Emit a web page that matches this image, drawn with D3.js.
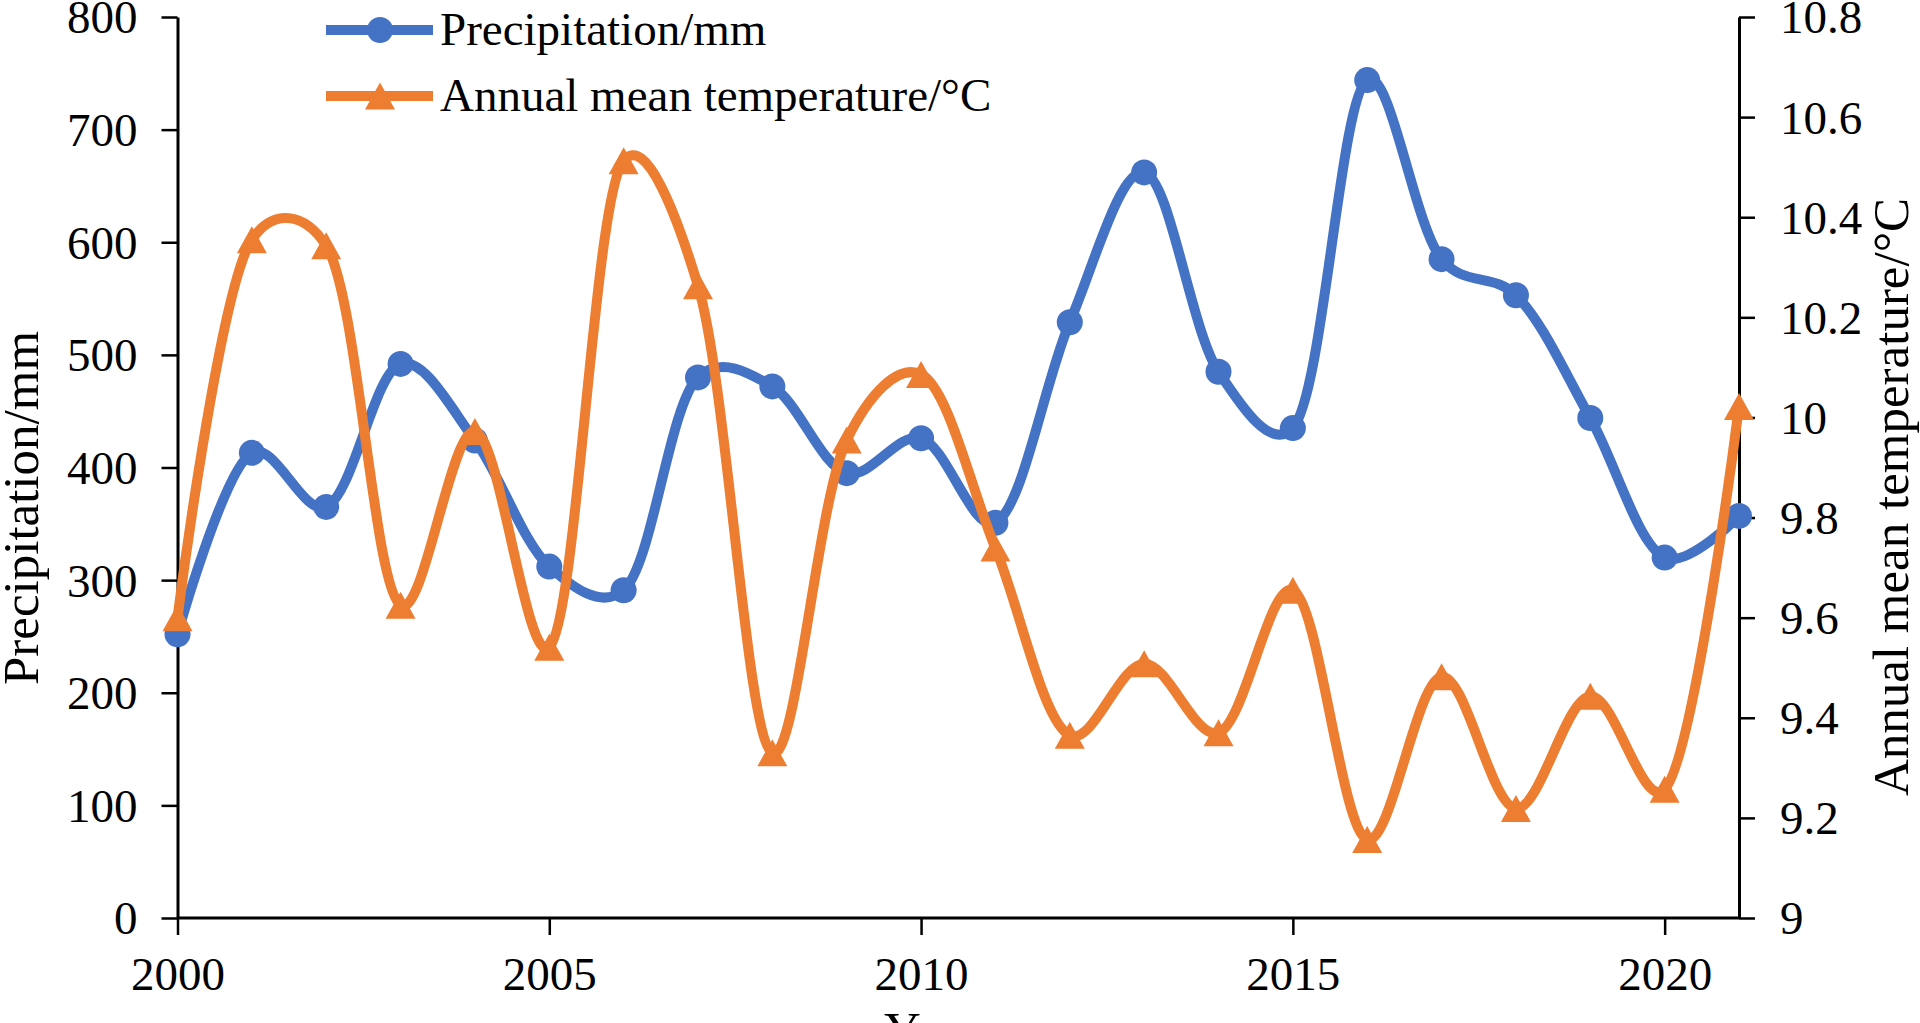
<!DOCTYPE html>
<html>
<head>
<meta charset="utf-8">
<script src="https://cdn.jsdelivr.net/npm/d3@7"></script>
<style>
  html, body { margin: 0; padding: 0; background: #fff; overflow: hidden; }
  svg { display: block; }
  text { font-family: "Liberation Serif", "Times New Roman", serif; fill: #000; }
</style>
</head>
<body>
<svg id="chart" width="1920" height="1023"></svg>
<script>
// ---- data ----
const years = [2000, 2001, 2002, 2003, 2004, 2005, 2006, 2007, 2008, 2009, 2010,
               2011, 2012, 2013, 2014, 2015, 2016, 2017, 2018, 2019, 2020, 2021];
const precipitation = [252, 413, 365, 492, 424, 312, 291, 480, 472, 395, 426,
                       351, 529, 662, 485, 435, 744, 585, 553, 444, 320, 357];
const temperature = [9.60, 10.355, 10.343, 9.625, 9.972, 9.541, 10.513, 10.263, 9.33, 9.955, 10.086,
                     9.739, 9.365, 9.508, 9.37, 9.655, 9.157, 9.482, 9.219, 9.443, 9.257, 10.022];
const xTicks = [2000, 2005, 2010, 2015, 2020];
const leftTicks = [0, 100, 200, 300, 400, 500, 600, 700, 800];
const rightTicks = [9, 9.2, 9.4, 9.6, 9.8, 10, 10.2, 10.4, 10.6, 10.8];
const seriesNames = ["Precipitation/mm", "Annual mean temperature/°C"];

// ---- layout ----
const L = 177.5, R = 1739, T = 17, B = 918;
const blue = "#4472C4", orange = "#ED7D31";
const svg = d3.select("#chart");

const x = d3.scaleLinear().domain([2000, 2021]).range([L, R]);
const yL = d3.scaleLinear().domain([0, 800]).range([B, T]);
const yR = d3.scaleLinear().domain([9, 10.8]).range([B, T]);

// axes
const tickFont = 47;
const gL = svg.append("g").attr("transform", `translate(${L},0)`)
  .call(d3.axisLeft(yL).tickValues(leftTicks).tickSize(16).tickPadding(24).tickSizeOuter(0));
const gR = svg.append("g").attr("transform", `translate(${R},0)`)
  .call(d3.axisRight(yR).tickValues(rightTicks).tickSize(16).tickPadding(25).tickSizeOuter(0)
    .tickFormat(d => String(+d.toFixed(1))));
const gB = svg.append("g").attr("transform", `translate(0,${B})`)
  .call(d3.axisBottom(x).tickValues(xTicks).tickSize(17).tickPadding(0).tickSizeOuter(0)
    .tickFormat(d3.format("d")));

[gL, gR, gB].forEach(g => {
  g.select(".domain").attr("stroke", "#000").attr("stroke-width", 3);
  g.selectAll(".tick line").attr("stroke", "#000").attr("stroke-width", 2.5);
  g.selectAll(".tick text")
    .style("font-family", '"Liberation Serif", "Times New Roman", serif')
    .style("font-size", tickFont + "px").attr("fill", "#000");
});
gL.selectAll(".tick text").attr("dy", "0.34em");
gR.selectAll(".tick text").attr("dy", "0.34em");
gB.selectAll(".tick text").attr("y", 72).attr("dy", 0);
gB.select(".domain").attr("d", `M${L},0H${R}`);

// axis titles
svg.append("text").attr("transform", "translate(38,508) rotate(-90)")
  .attr("text-anchor", "middle").style("font-size", "51px").text("Precipitation/mm");
svg.append("text").attr("transform", "translate(1908,497) rotate(-90)")
  .attr("text-anchor", "middle").style("font-size", "51px").text("Annual mean temperature/°C");
svg.append("text").attr("x", 931).attr("y", 1047)
  .attr("text-anchor", "middle").style("font-size", "51px").text("Year");

// marker shapes
const triW = 30, triH = 27, circR = 13;
const triPath = `M0,${-triH/2}L${triW/2},${triH/2}L${-triW/2},${triH/2}Z`;
const lineW = 10;

const curve = d3.curveCatmullRom.alpha(0.25);

// precipitation series
const linePre = d3.line().x((d, i) => x(years[i])).y(d => yL(d)).curve(curve);
svg.append("path").datum(precipitation).attr("d", linePre)
  .attr("fill", "none").attr("stroke", blue).attr("stroke-width", lineW)
  .attr("stroke-linejoin", "round").attr("stroke-linecap", "round");
svg.append("g").selectAll("circle").data(precipitation).join("circle")
  .attr("cx", (d, i) => x(years[i])).attr("cy", d => yL(d)).attr("r", circR).attr("fill", blue);

// temperature series
const lineTem = d3.line().x((d, i) => x(years[i])).y(d => yR(d)).curve(curve);
svg.append("path").datum(temperature).attr("d", lineTem)
  .attr("fill", "none").attr("stroke", orange).attr("stroke-width", lineW)
  .attr("stroke-linejoin", "round").attr("stroke-linecap", "round");
svg.append("g").selectAll("path").data(temperature).join("path")
  .attr("transform", (d, i) => `translate(${x(years[i])},${yR(d)})`)
  .attr("d", triPath).attr("fill", orange);

// legend
const legend = svg.append("g");
const legY = [30, 96];
const legColors = [blue, orange];
seriesNames.forEach((name, i) => {
  const g = legend.append("g").attr("transform", `translate(0,${legY[i]})`);
  g.append("line").attr("x1", 326).attr("x2", 433).attr("y1", 0).attr("y2", 0)
    .attr("stroke", legColors[i]).attr("stroke-width", lineW);
  if (i === 0) g.append("circle").attr("cx", 380).attr("cy", 0).attr("r", circR).attr("fill", blue);
  else g.append("path").attr("transform", "translate(380,0)").attr("d", triPath).attr("fill", orange);
  g.append("text").attr("x", 440).attr("y", 15).style("font-size", "47px").text(name);
});
</script>
</body>
</html>
